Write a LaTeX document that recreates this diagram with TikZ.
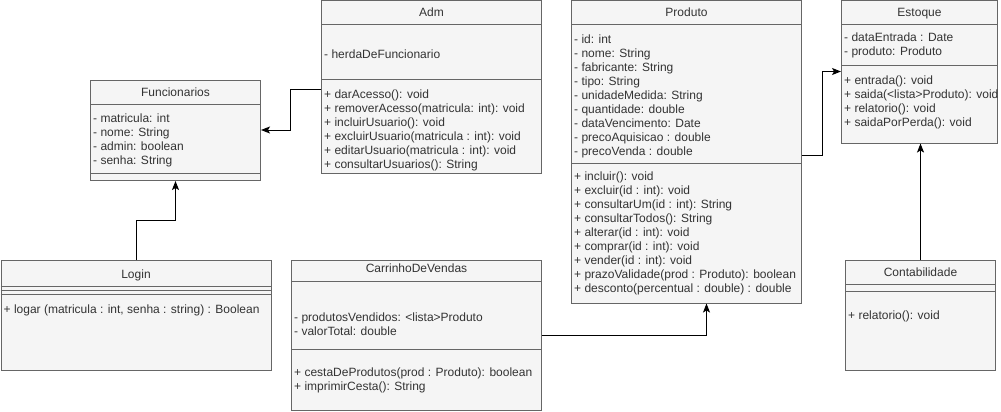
\documentclass[tikz,border=0pt]{standalone}
\usepackage{fontspec}
\setmainfont{Liberation Sans}
\usetikzlibrary{arrows.meta}
\definecolor{umlline}{HTML}{666666}
\definecolor{umlfill}{HTML}{F5F5F5}
\definecolor{umltext}{HTML}{333333}
\tikzstyle{classbox} = [rectangle, draw=umlline, fill=umlfill, line width=1pt,
    anchor=north west, inner sep=0pt]
\tikzstyle{classname} = [text=umltext, font=\fontsize{12}{14}\selectfont,
    text height=8.6pt, text depth=0pt, inner sep=0pt]
\tikzstyle{members} = [text=umltext, font=\fontsize{12}{14}\selectfont, align=left,
    anchor=north west, inner sep=0pt, yshift=-1.5pt, execute at begin node=\strut]
\tikzstyle{sep} = [draw=umlline, line width=1pt]
\tikzstyle{line} = [draw, line width=1pt, -{Stealth[length=9pt,width=7pt,inset=2pt]}]

\begin{document}
\begin{tikzpicture}[x=1pt, y=-1pt]
	\useasboundingbox (0,0) rectangle (1001,412);

		\node [classbox, minimum width=170pt, minimum height=100pt] (funcionarios) at (90,80) {};
		\node [classname] (funcionariosName) at ([yshift=-12pt]funcionarios.north) {Funcionarios};
		\draw [sep] ([yshift=-24pt]funcionarios.north west) -- ([yshift=-24pt]funcionarios.north east);
		\draw [sep] ([yshift=-93pt]funcionarios.north west) -- ([yshift=-93pt]funcionarios.north east);
		\node [members] (funcionariosAttr) at ([xshift=3pt,yshift=-32.2pt]funcionarios.north west)
			{- matricula: int\\- nome: String\\- admin: boolean\\- senha: String};

		\node [classbox, minimum width=220pt, minimum height=172pt] (adm) at (321,0.5) {};
		\node [classname] (admName) at ([yshift=-12pt]adm.north) {Adm};
		\draw [sep] ([yshift=-24pt]adm.north west) -- ([yshift=-24pt]adm.north east);
		\draw [sep] ([yshift=-79pt]adm.north west) -- ([yshift=-79pt]adm.north east);
		\node [members] (admAttr) at ([xshift=3pt,yshift=-46.2pt]adm.north west) {- herdaDeFuncionario};
		\node [members] (admOps) at ([xshift=3pt,yshift=-87.8pt]adm.north west)
			{+ darAcesso(): void\\+ removerAcesso(matricula: int): void\\+ incluirUsuario(): void\\
			+ excluirUsuario(matricula : int): void\\+ editarUsuario(matricula : int): void\\
			+ consultarUsuarios(): String};

		\node [classbox, minimum width=230pt, minimum height=302pt] (produto) at (571,0.5) {};
		\node [classname] (produtoName) at ([yshift=-12pt]produto.north) {Produto};
		\draw [sep] ([yshift=-24pt]produto.north west) -- ([yshift=-24pt]produto.north east);
		\draw [sep] ([yshift=-163pt]produto.north west) -- ([yshift=-163pt]produto.north east);
		\node [members] (produtoAttr) at ([xshift=3pt,yshift=-32.2pt]produto.north west)
			{- id: int\\- nome: String\\- fabricante: String\\- tipo: String\\- unidadeMedida: String\\
			- quantidade: double\\- dataVencimento: Date\\- precoAquisicao : double\\- precoVenda : double};
		\node [members] (produtoOps) at ([xshift=3pt,yshift=-169.5pt]produto.north west)
			{+ incluir(): void\\+ excluir(id : int): void\\+ consultarUm(id : int): String\\
			+ consultarTodos(): String\\+ alterar(id : int): void\\+ comprar(id : int): void\\
			+ vender(id : int): void\\+ prazoValidade(prod : Produto): boolean\\
			+ desconto(percentual : double) : double};

		\node [classbox, minimum width=156pt, minimum height=142pt] (estoque) at (841,0.5) {};
		\node [classname] (estoqueName) at ([yshift=-12pt]estoque.north) {Estoque};
		\draw [sep] ([yshift=-24pt]estoque.north west) -- ([yshift=-24pt]estoque.north east);
		\draw [sep] ([yshift=-65pt]estoque.north west) -- ([yshift=-65pt]estoque.north east);
		\node [members] (estoqueAttr) at ([xshift=3pt,yshift=-30.5pt]estoque.north west)
			{- dataEntrada : Date\\- produto: Produto};
		\node [members] (estoqueOps) at ([xshift=3pt,yshift=-73.8pt]estoque.north west)
			{+ entrada(): void\\+ saida(<lista>Produto): void\\+ relatorio(): void\\+ saidaPorPerda(): void};

		\node [classbox, minimum width=270pt, minimum height=110pt] (login) at (0.5,260) {};
		\node [classname] (loginName) at ([yshift=-14pt]login.north) {Login};
		\draw [sep] ([yshift=-26pt]login.north west) -- ([yshift=-26pt]login.north east);
		\draw [sep] ([yshift=-30pt]login.north west) -- ([yshift=-30pt]login.north east);
		\draw [sep] ([yshift=-34pt]login.north west) -- ([yshift=-34pt]login.north east);
		\node [members] (loginOps) at ([xshift=3pt,yshift=-42.2pt]login.north west)
			{+ logar (matricula : int, senha : string) : Boolean};

		\node [classbox, minimum width=250pt, minimum height=150pt] (carrinho) at (291,260) {};
		\node [classname] (carrinhoName) at ([yshift=-8.5pt]carrinho.north) {CarrinhoDeVendas};
		\draw [sep] ([yshift=-21pt]carrinho.north west) -- ([yshift=-21pt]carrinho.north east);
		\draw [sep] ([yshift=-89pt]carrinho.north west) -- ([yshift=-89pt]carrinho.north east);
		\node [members] (carrinhoAttr) at ([xshift=3pt,yshift=-51.2pt]carrinho.north west)
			{- produtosVendidos: <lista>Produto\\- valorTotal: double};
		\node [members] (carrinhoOps) at ([xshift=3pt,yshift=-106.2pt]carrinho.north west)
			{+ cestaDeProdutos(prod : Produto): boolean\\+ imprimirCesta(): String};

		\node [classbox, minimum width=150pt, minimum height=110pt] (contabilidade) at (845,260) {};
		\node [classname] (contabilidadeName) at ([yshift=-11.7pt]contabilidade.north) {Contabilidade};
		\draw [sep] ([yshift=-24pt]contabilidade.north west) -- ([yshift=-24pt]contabilidade.north east);
		\draw [sep] ([yshift=-31pt]contabilidade.north west) -- ([yshift=-31pt]contabilidade.north east);
		\node [members] (contabilidadeOps) at ([xshift=3pt,yshift=-47.8pt]contabilidade.north west)
			{+ relatorio(): void};

		\path [line] ([yshift=-89pt]adm.north west) -- ++(-31,0) |- ([yshift=-50pt]funcionarios.north east);
		\path [line] (login.north) -- ++(0,-40) -| (funcionarios.south);
		\path [line] (carrinho.east) -| ([xshift=20pt]produto.south);
		\path [line] ([yshift=-155pt]produto.north east) -- ++(20,0) |- ([yshift=-71pt]estoque.north west);
		\path [line] (contabilidade.north) -- (contabilidade.north |- estoque.south);
	\end{tikzpicture}
\end{document}
